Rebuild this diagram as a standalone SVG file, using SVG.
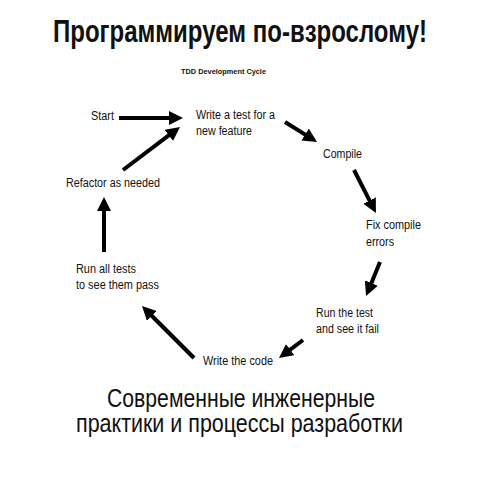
<svg xmlns="http://www.w3.org/2000/svg" width="480" height="480" viewBox="0 0 480 480">
<style>
.t{font-family:"Liberation Sans",Arial,sans-serif;fill:#111}
.lbl{font-size:12.5px}
.title{font-size:31px;font-weight:bold}
.sub{font-size:26px}
.cap{font-size:8px;font-weight:bold}
.c{stroke:#000;stroke-width:4;fill:none;marker-end:url(#ah)}
</style>
<defs>
<marker id="ah" markerUnits="userSpaceOnUse" markerWidth="14" markerHeight="14" refX="2" refY="7" orient="auto">
<path d="M0,0 L14,7 L0,14 z" fill="#000"/>
</marker>
</defs>
<rect width="480" height="480" fill="#fff"/>
<text class="t title" x="53" y="42" textLength="374" lengthAdjust="spacingAndGlyphs">Программируем по-взрослому!</text>
<text class="t cap" x="181" y="74" textLength="85" lengthAdjust="spacingAndGlyphs">TDD Development Cycle</text>
<g id="connectors">
<line class="c" x1="119" y1="118" x2="171" y2="118"/>
<line class="c" x1="285" y1="122" x2="306.8" y2="135.6"/>
<line class="c" x1="354" y1="170" x2="370.5" y2="202.3"/>
<line class="c" x1="380" y1="262" x2="370.6" y2="284.9"/>
<line class="c" x1="303" y1="340" x2="288.6" y2="350.8"/>
<line class="c" x1="194" y1="358" x2="150.5" y2="314.5"/>
<line class="c" x1="104" y1="252" x2="104" y2="209"/>
<line class="c" x1="123" y1="170" x2="170.4" y2="134.2"/>
</g>
<g id="start"><text class="t lbl" x="91" y="120" textLength="23" lengthAdjust="spacingAndGlyphs">Start</text></g>
<g id="write-test">
<text class="t lbl" x="196" y="119" textLength="79" lengthAdjust="spacingAndGlyphs">Write a test for a</text>
<text class="t lbl" x="196" y="135" textLength="56" lengthAdjust="spacingAndGlyphs">new feature</text>
</g>
<g id="compile"><text class="t lbl" x="323" y="158" textLength="39" lengthAdjust="spacingAndGlyphs">Compile</text></g>
<g id="fix">
<text class="t lbl" x="366" y="229" textLength="55" lengthAdjust="spacingAndGlyphs">Fix compile</text>
<text class="t lbl" x="366" y="246" textLength="28" lengthAdjust="spacingAndGlyphs">errors</text>
</g>
<g id="run-test">
<text class="t lbl" x="316" y="317" textLength="57" lengthAdjust="spacingAndGlyphs">Run the test</text>
<text class="t lbl" x="316" y="333" textLength="63" lengthAdjust="spacingAndGlyphs">and see it fail</text>
</g>
<g id="write-code"><text class="t lbl" x="203" y="365" textLength="70" lengthAdjust="spacingAndGlyphs">Write the code</text></g>
<g id="run-all">
<text class="t lbl" x="76" y="273" textLength="60" lengthAdjust="spacingAndGlyphs">Run all tests</text>
<text class="t lbl" x="76" y="289" textLength="83" lengthAdjust="spacingAndGlyphs">to see them pass</text>
</g>
<g id="refactor"><text class="t lbl" x="66" y="187" textLength="94" lengthAdjust="spacingAndGlyphs">Refactor as needed</text></g>
<text class="t sub" x="107" y="407" textLength="268" lengthAdjust="spacingAndGlyphs">Современные инженерные</text>
<text class="t sub" x="76" y="432" textLength="327" lengthAdjust="spacingAndGlyphs">практики и процессы разработки</text>
</svg>
